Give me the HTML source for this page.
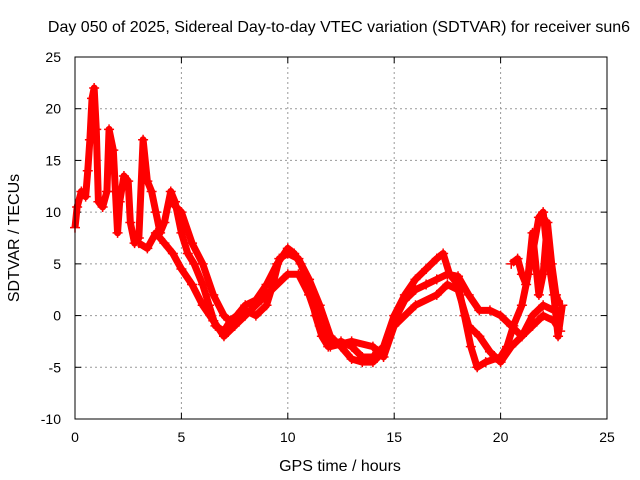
<!DOCTYPE html>
<html><head><meta charset="utf-8"><style>
body{margin:0;background:#fff}
svg{display:block;font-family:"Liberation Sans",sans-serif}
</style></head><body>
<svg id="chart" width="640" height="480">
<rect width="640" height="480" fill="#fff"/>
<text x="339" y="32" font-size="16" text-anchor="middle">Day 050 of 2025, Sidereal Day-to-day VTEC variation (SDTVAR) for receiver sun6</text>
<g id="grid"></g>
<g id="ticks"></g>
<g id="series"></g>
<rect x="75" y="57" width="532" height="362" fill="none" stroke="#000" stroke-width="1"/>
<text x="340" y="471" font-size="16" text-anchor="middle">GPS time / hours</text>
<text transform="translate(19,238) rotate(-90)" font-size="16" text-anchor="middle">SDTVAR / TECUs</text>
</svg>
<script>
const xTicks=[0,5,10,15,20,25];
const yTicks=[-10,-5,0,5,10,15,20,25];
const track1=[[0,8.5],[0.1,10.5],[0.3,12],[0.5,11.5],[0.6,14],[0.7,17],[0.8,21],[0.9,22],[1.0,18],[1.1,11],[1.3,10.5],[1.5,12],[1.6,18],[1.8,16],[1.9,12],[2.0,8],[2.1,11],[2.3,13.5],[2.5,13],[2.6,9],[2.8,7],[3.0,7.5],[3.2,17],[3.4,13],[3.6,12],[3.8,10],[4.0,8],[4.2,9],[4.5,12],[4.7,11],[5.0,8],[5.3,6],[5.6,5],[6.0,3],[6.3,1],[6.6,-1],[7.0,-1.5],[7.3,-0.5],[7.6,0],[8.0,1],[8.5,1.5],[9.0,3],[9.5,5],[10,6.5],[10.3,6],[10.6,5],[11,3],[11.3,0],[11.6,-2],[11.9,-3],[12.5,-2.5],[13,-3],[13.5,-4],[14,-4],[14.5,-3],[15,0],[15.5,2],[16,3.5],[16.5,4.5],[17,5.5],[17.3,6],[17.6,4],[18,3],[18.3,0],[18.6,-3],[18.9,-5],[19.3,-4.5],[20,-4],[20.3,-3],[20.6,-1],[21,1],[21.3,4],[21.5,8],[21.8,2],[22,4],[22.2,9],[22.4,5],[22.6,2],[22.8,1]];
const track2=[[3.0,7],[3.4,6.5],[3.8,8],[4.2,7],[4.6,6],[5.0,4.5],[5.5,3],[6.0,1],[6.5,-0.5],[7.0,-2],[7.5,-1],[8,0.5],[8.5,0],[9,1],[9.3,3],[9.6,5.5],[10,6],[10.5,5.5],[11,3.5],[11.5,1],[12,-2],[12.5,-3],[13,-4.2],[13.5,-4.5],[14,-4.5],[14.5,-3.5],[15,-0.5],[15.5,1.5],[16,2.5],[16.5,3],[17,3.5],[17.5,4],[18,3.8],[18.5,2],[19,0.5],[19.5,0.5],[20,0],[20.5,-1],[21,-2],[21.5,-1],[22,0],[22.5,-0.5],[22.8,-1.5]];
const track3=[[4.5,11],[5,10],[5.5,7],[6,5],[6.5,2],[7,0],[7.5,-1],[8,0],[9,2],[10,4],[10.5,4],[11,2],[11.5,-1],[12,-3],[13,-2.5],[14,-3],[14.5,-4],[15,-1],[16,1],[17,2],[17.5,3],[18,2.5],[18.5,-1],[19,-2],[19.5,-3.5],[20,-4.5],[20.5,-3],[21,-2],[21.5,0],[22,1],[22.5,0.5]];
const track4=[[20.5,5],[20.8,5.5],[21,4],[21.2,3],[21.5,6],[21.8,9.5],[22,10],[22.2,6],[22.5,2],[22.7,-2],[22.9,1]];
const allTracks=[track1,track2,track3,track4];
const NS="http://www.w3.org/2000/svg";
const X=h=>75+h*(532/25), Y=v=>57+(25-v)*(362/35);
const grid=document.getElementById('grid'), ticks=document.getElementById('ticks'), ser=document.getElementById('series');
function mk(t,a,p){const e=document.createElementNS(NS,t);for(const k in a)e.setAttribute(k,a[k]);p.appendChild(e);return e;}
xTicks.forEach(t=>{
 if(t>0&&t<25){const g=mk('line',{x1:X(t),x2:X(t),y1:57,y2:419,stroke:'#999','stroke-dasharray':'2,3'},grid);
 
 }
 mk('line',{x1:X(t),x2:X(t),y1:419,y2:413,stroke:'#000'},ticks);
 mk('line',{x1:X(t),x2:X(t),y1:57,y2:63,stroke:'#000'},ticks);
 const l=mk('text',{x:X(t),y:442,'font-size':14,'text-anchor':'middle'},ticks);l.textContent=t;
 
 
});
yTicks.forEach(t=>{
 if(t>-10&&t<25){const g=mk('line',{x1:75,x2:607,y1:Y(t),y2:Y(t),stroke:'#999','stroke-dasharray':'2,3'},grid);
 
 }
 mk('line',{x1:75,x2:81,y1:Y(t),y2:Y(t),stroke:'#000'},ticks);
 mk('line',{x1:607,x2:601,y1:Y(t),y2:Y(t),stroke:'#000'},ticks);
 const l=mk('text',{x:61,y:Y(t)+5,'font-size':14,'text-anchor':'end'},ticks);l.textContent=t;
 
 
});
allTracks.forEach((tr,i)=>{
 const p=mk('polyline',{points:tr.map(d=>X(d[0])+','+Y(d[1])).join(' '),fill:'none',stroke:'#f00','stroke-width':7,'stroke-linejoin':'round'},ser);
 
 
 tr.forEach(d=>{
  const m=mk('path',{d:`M${X(d[0])-5},${Y(d[1])}h10M${X(d[0])},${Y(d[1])-5}v10`,stroke:'#f00','stroke-width':1.5},ser);
  
  
 });
});
</script>
</body></html>
